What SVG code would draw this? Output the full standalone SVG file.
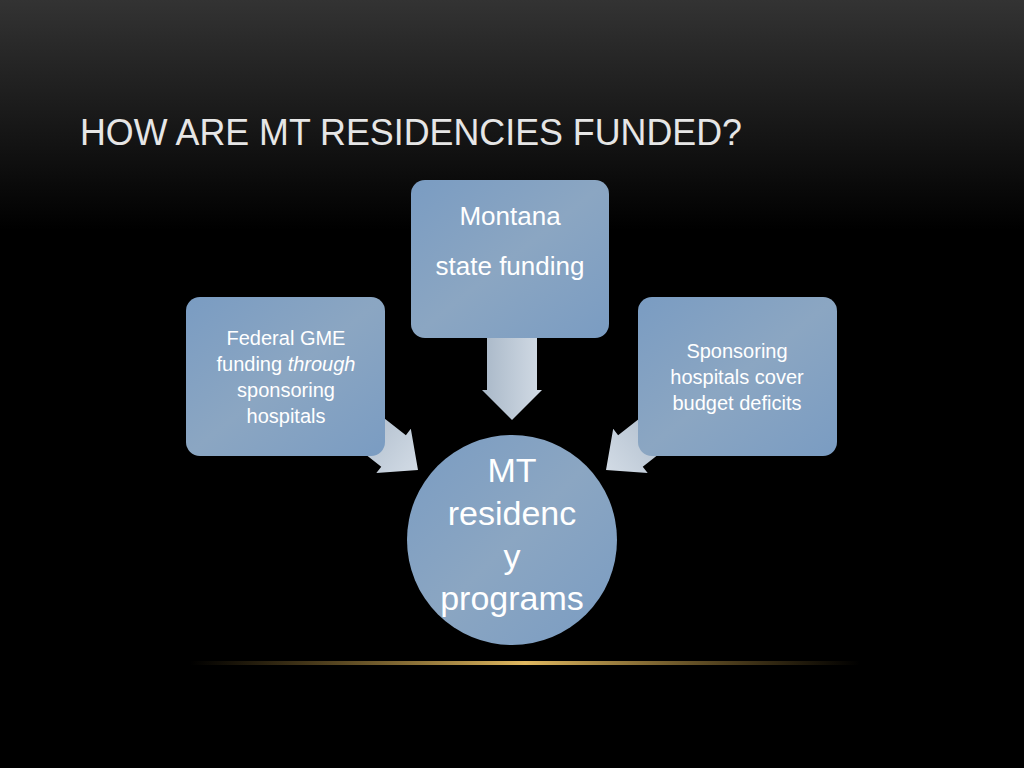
<svg xmlns="http://www.w3.org/2000/svg" width="1024" height="768" viewBox="0 0 1024 768">
<defs>
<linearGradient id="bg" x1="0" y1="0" x2="0" y2="1"><stop offset="0" stop-color="#333"/><stop offset="0.3" stop-color="#000"/><stop offset="1" stop-color="#000"/></linearGradient>
<linearGradient id="box" x1="0" y1="0" x2="1" y2="1"><stop offset="0" stop-color="#7a9cc2"/><stop offset="0.5" stop-color="#8ba6c2"/><stop offset="1" stop-color="#7a9cc2"/></linearGradient>
<linearGradient id="arr" x1="0" y1="0" x2="1" y2="0"><stop offset="0" stop-color="#a9b8c8"/><stop offset="1" stop-color="#d2dbe5"/></linearGradient>
<linearGradient id="gold" x1="0" y1="0" x2="1" y2="0"><stop offset="0" stop-color="#b08a3a" stop-opacity="0"/><stop offset="0.5" stop-color="#e0b860"/><stop offset="1" stop-color="#b08a3a" stop-opacity="0"/></linearGradient>
<style>
.t{font-family:"Liberation Sans Narrow","Liberation Sans",Arial,sans-serif;fill:#fff;text-anchor:middle}
.b{fill:url(#box)}
.a{fill:url(#arr)}
</style>
</defs>
<rect width="1024" height="768" fill="url(#bg)"/>
<rect x="190" y="661" width="670" height="4" fill="url(#gold)"/>
<text x="80" y="145" font-family="'Liberation Sans Narrow','Liberation Sans',sans-serif" font-size="37" fill="#e6e6e6" textLength="662" lengthAdjust="spacingAndGlyphs">HOW ARE MT RESIDENCIES FUNDED?</text>
<g id="connectors">
<polygon class="a" points="487,330 537,330 537,390 542,390 512,420 482,390 487,390"/>
<g transform="translate(418,470) rotate(38)"><polygon class="a" points="0,0 -31,-28 -31,-20 -90,-20 -90,20 -31,20 -31,28"/></g>
<g transform="translate(606,470) rotate(142)"><polygon class="a" points="0,0 -31,-28 -31,-20 -90,-20 -90,20 -31,20 -31,28"/></g>
</g>
<g id="top"><rect class="b" x="411" y="180" width="198" height="158" rx="14"/>
<text class="t" x="510" y="225" font-size="26">Montana</text><text class="t" x="510" y="275" font-size="26">state funding</text></g>
<g id="left"><rect class="b" x="186" y="297" width="199" height="159" rx="14"/>
<text class="t" x="286" y="345" font-size="20">Federal GME</text>
<text class="t" x="286" y="371" font-size="20">funding <tspan font-style="italic">through</tspan></text>
<text class="t" x="286" y="397" font-size="20">sponsoring</text>
<text class="t" x="286" y="423" font-size="20">hospitals</text></g>
<g id="right"><rect class="b" x="638" y="297" width="199" height="159" rx="14"/>
<text class="t" x="737" y="358" font-size="20">Sponsoring</text>
<text class="t" x="737" y="384" font-size="20">hospitals cover</text>
<text class="t" x="737" y="410" font-size="20">budget deficits</text></g>
<g id="center"><circle class="b" cx="512" cy="540" r="105"/>
<text class="t" x="512" y="482" font-size="34">MT</text>
<text class="t" x="512" y="525" font-size="34">residenc</text>
<text class="t" x="512" y="568" font-size="34">y</text>
<text class="t" x="512" y="610" font-size="34">programs</text></g>
</svg>
